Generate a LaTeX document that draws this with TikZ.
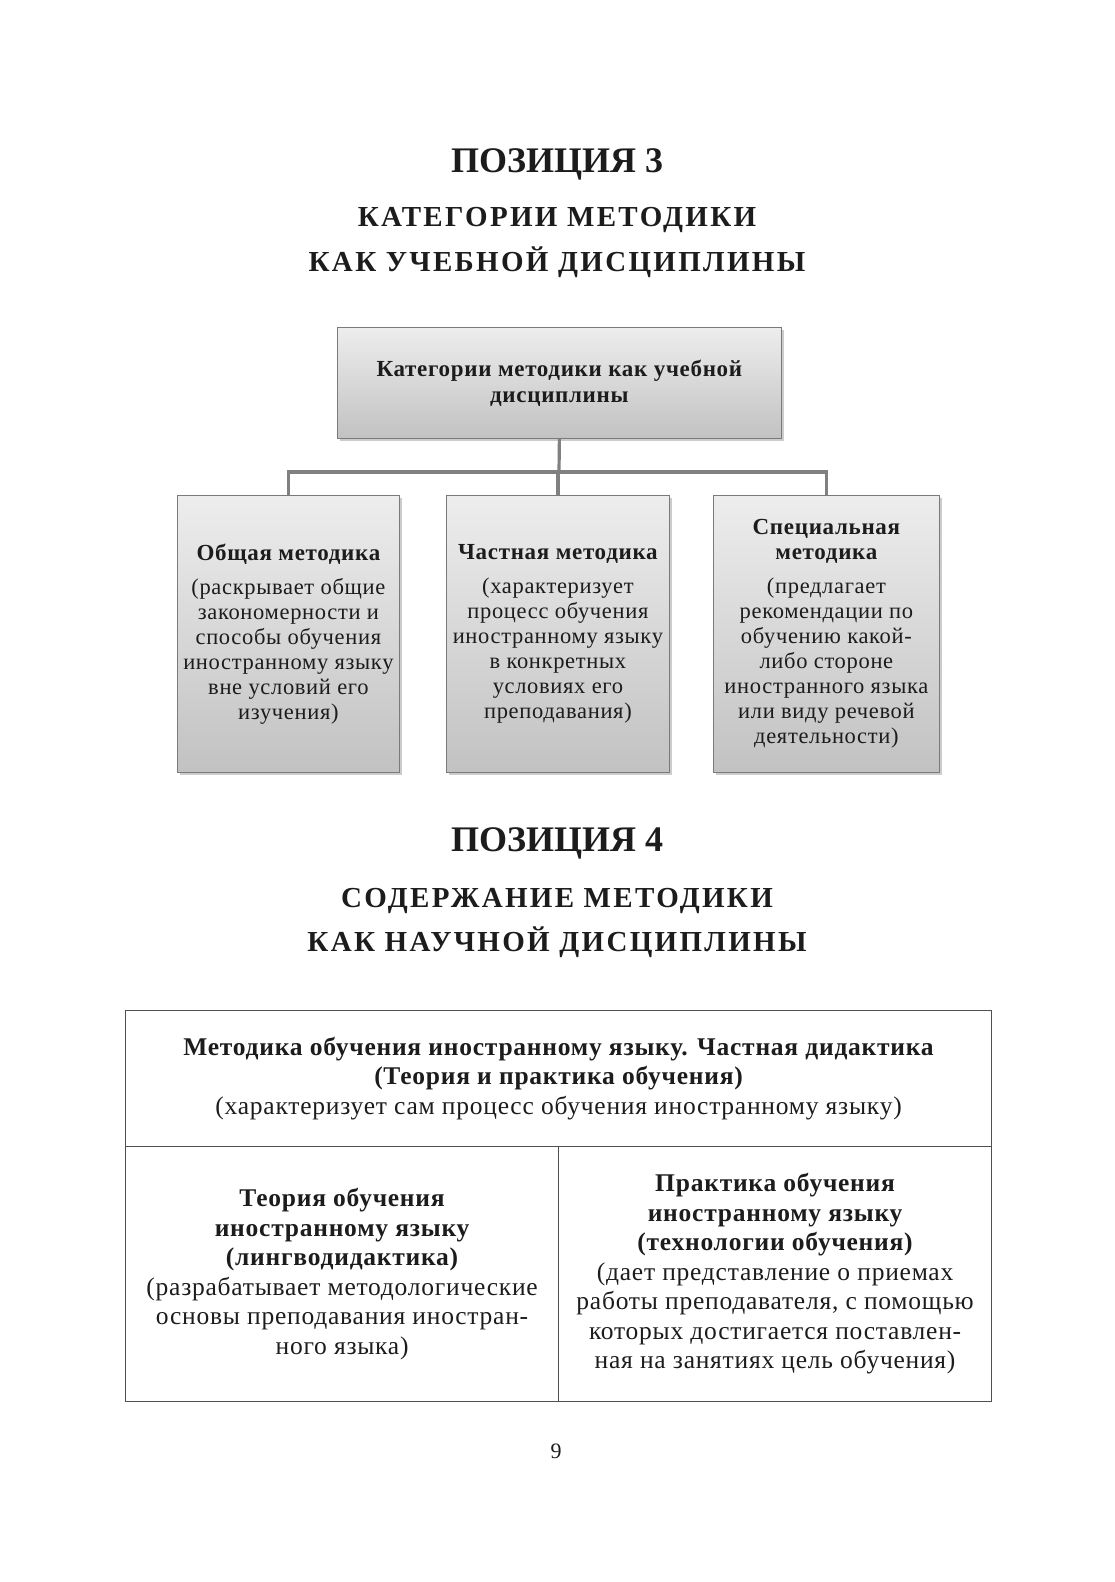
\documentclass[tikz,border=0pt]{standalone}
\usepackage{fontspec}
\setmainfont{Liberation Serif}
\newfontfamily\headfont[LetterSpace=8]{Liberation Serif}
\newfontfamily\wideserif[LetterSpace=3]{Liberation Serif}
\usetikzlibrary{shadows}
\definecolor{ink}{HTML}{1C1C1C}
\definecolor{boxline}{HTML}{7A7A7A}
\definecolor{connline}{HTML}{808080}
\definecolor{tabline}{HTML}{505050}
\begin{document}
\begin{tikzpicture}[x=1pt,y=-1pt,
  postitle/.style={font=\bfseries\fontsize{36}{40}\selectfont, text=ink, inner sep=0pt, anchor=base},
  ttl/.style={font=\headfont\bfseries\fontsize{29}{34}\selectfont, text=ink, inner sep=0pt, anchor=base},
  catbox/.style={draw=boxline, line width=0.8pt, top color=gray!14, bottom color=gray!48,
    drop shadow={shadow xshift=3pt, shadow yshift=-3pt, opacity=0.4},
    align=center, inner sep=0pt, anchor=north west, text=ink},
  boxtext/.style={font=\wideserif\fontsize{22.5}{25}\selectfont},
  conn/.style={draw=connline, line width=3.2pt},
  cell/.style={draw=tabline, line width=1.2pt, align=center, inner sep=0pt, anchor=north west, text=ink,
    font=\wideserif\fontsize{25.5}{29.5}\selectfont},
]
\useasboundingbox (0,0) rectangle (1115,1582);

% ---- Position 3 titles
\node[postitle] (p3) at (557,172) {ПОЗИЦИЯ 3};
\node[ttl] (t3a) at (557,226) {КАТЕГОРИИ МЕТОДИКИ};
\node[ttl] (t3b) at (557,271) {КАК УЧЕБНОЙ ДИСЦИПЛИНЫ};

% ---- category boxes
\node[catbox, minimum width=444pt, minimum height=111pt, font=\wideserif\bfseries\fontsize{23}{26}\selectfont]
  (top) at (337,327) {Категории методики как учебной\\дисциплины};

\node[catbox, boxtext, minimum width=222pt, minimum height=277pt] (c1) at (177,495)
  {{\fontsize{23}{25}\selectfont\bfseries Общая методика}\\[9pt]
   (раскрывает общие\\закономерности и\\способы обучения\\иностранному языку\\вне условий его\\изучения)};
\node[catbox, boxtext, minimum width=223pt, minimum height=277pt] (c2) at (446,495)
  {{\fontsize{23}{25}\selectfont\bfseries Частная методика}\\[9pt]
   (характеризует\\процесс обучения\\иностранному языку\\в конкретных\\условиях его\\преподавания)};
\node[catbox, boxtext, minimum width=226pt, minimum height=277pt] (c3) at (713,495)
  {{\fontsize{23}{25}\selectfont\bfseries Специальная}\\{\fontsize{23}{25}\selectfont\bfseries методика}\\[9pt]
   (предлагает\\рекомендации по\\обучению какой-\\либо стороне\\иностранного языка\\или виду речевой\\деятельности)};

\coordinate (bus) at (559,472);
\draw[conn] (top.south) -- (bus);
\draw[conn] (c1.north) |- (bus) -| (c3.north);
\draw[conn] (c2.north) -- (c2.north |- bus);

% ---- Position 4 titles
\node[postitle] (p4) at (557,851) {ПОЗИЦИЯ 4};
\node[ttl] (t4a) at (557,907) {СОДЕРЖАНИЕ МЕТОДИКИ};
\node[ttl] (t4b) at (557,951) {КАК НАУЧНОЙ ДИСЦИПЛИНЫ};

% ---- table
\node[cell, minimum width=866pt, minimum height=136pt] (row1) at (125,1010)
  {\bfseries Методика обучения иностранному языку. Частная дидактика\\
   \bfseries (Теория и практика обучения)\\
   (характеризует сам процесс обучения иностранному языку)};
\node[cell, minimum width=433pt, minimum height=255pt] (left) at (125,1146)
  {\bfseries Теория обучения\\\bfseries иностранному языку\\\bfseries (лингводидактика)\\
   (разрабатывает методологические\\основы преподавания иностран-\\ного языка)};
\node[cell, minimum width=433pt, minimum height=255pt] (right) at (558,1146)
  {\bfseries Практика обучения\\\bfseries иностранному языку\\\bfseries (технологии обучения)\\
   (дает представление о приемах\\работы преподавателя, с помощью\\которых достигается поставлен-\\ная на занятиях цель обучения)};

% ---- page number
\node[font=\fontsize{22}{26}\selectfont, text=ink, inner sep=0pt] (pg) at (556,1451) {9};
\end{tikzpicture}
\end{document}
